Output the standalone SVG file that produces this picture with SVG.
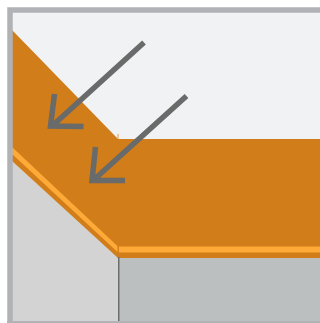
<svg xmlns="http://www.w3.org/2000/svg" width="320" height="323" viewBox="0 0 320 323">
<style>
.arrow{fill:none;stroke:#696a6a;stroke-width:5.500;stroke-miterlimit:10}
</style>
<rect width="320" height="323" fill="#fff"/>
<rect x="12" y="12" width="308" height="309" fill="#f1f2f4"/>
<g id="wall-left"><polygon points="12,161 118,257 118,321 12,321" fill="#d3d3d3"/></g>
<g id="wall-right"><rect x="118" y="257" width="202" height="64" fill="#bbbfbf"/></g>
<g id="slab"><polygon points="12,30 118,139 320,139 320,258 118,258 12,161" fill="#d17d19"/>
<rect x="117.500" y="134" width="1" height="5" fill="#e39a3c"/></g>
<g id="edge"><polygon points="12,147 118,246.500 320,246.500 320,252.500 118,252.500 12,154" fill="#fdaa38"/>
<rect x="117.500" y="246" width="1.500" height="12" fill="#d17d19"/></g>
<rect x="118" y="257" width="1.500" height="64" fill="#6d6e70"/>
<g id="frame"><path d="M10 323V10H320" fill="none" stroke="#b1b2b6" stroke-width="5.500"/>
<rect x="7" y="321" width="313" height="2" fill="#b1b2b6"/></g>
<g id="connectors">
<path class="arrow" d="M144 42.500L51.500 126.500M54.500 94L50.500 126L83.500 126.500"/>
<path class="arrow" d="M186.500 96L93.500 180M95.500 147L92 180.500L125 180.500"/>
</g>
</svg>
